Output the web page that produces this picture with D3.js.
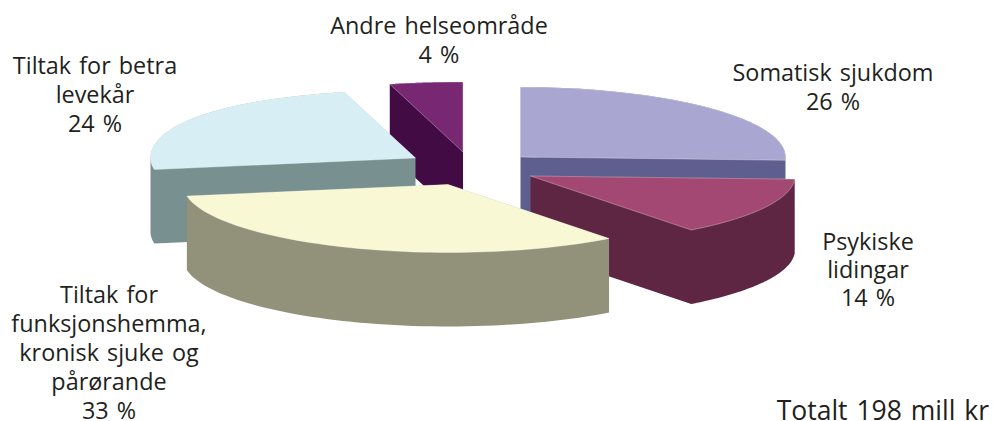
<!DOCTYPE html>
<html>
<head>
<meta charset="utf-8">
<script src="https://cdn.jsdelivr.net/npm/d3@7"></script>
<style>
    html, body { margin: 0; background: #fff; }
    text { font-family: "Open Sans", "Noto Sans", sans-serif; fill: #231f20; word-spacing: 2px; }
</style>
</head>
<body>
<div id="chart"></div>
<script>
//Data
const categories = ["Somatisk sjukdom", "Psykiske lidingar", "Tiltak for funksjonshemma, kronisk sjuke og pårørande", "Tiltak for betra levekår", "Andre helseområde"];
const values = [26, 14, 33, 24, 4];
const labelLines = [
    ["Somatisk sjukdom"],
    ["Psykiske", "lidingar"],
    ["Tiltak for", "funksjonshemma,", "kronisk sjuke og", "pårørande"],
    ["Tiltak for betra", "levekår"],
    ["Andre helseområde"]
];
const totalText = "Totalt 198 mill kr";

//Colours and layout per slice (exploded centre of each slice)
const topColors = ["#a9a7d1", "#a34873", "#f8f8d5", "#d6eef4", "#782873"];
const wallColors = ["#5e5f8e", "#5e2642", "#92927a", "#78908f", "#420b44"];
const sliceLayout = [
    {cx: 520.5, cy: 157, rx: 265, ry: 70, depth: 70, back: 0},
    {cx: 530.5, cy: 176, rx: 264.5, ry: 68, depth: 74, back: 0},
    {cx: 448, cy: 184.5, rx: 265, ry: 68, depth: 74, back: 0},
    {cx: 415.5, cy: 158, rx: 265, ry: 68, depth: 74, back: 0.1},
    {cx: 463, cy: 152, rx: 265, ry: 70, depth: 70, back: 0.13}
];
const labelLayout = [
    {x: 833, y: 81, lh: 29},
    {x: 868, y: 250, lh: 28},
    {x: 109, y: 303, lh: 29},
    {x: 95, y: 74, lh: 29},
    {x: 439, y: 34, lh: 29}
];
const drawOrder = [0, 4, 3, 1, 2];

const width = 993;
const height = 421;

const svg = d3.select("#chart")
    .append("svg")
    .attr("width", width)
    .attr("height", height)
    .attr("viewBox", `0 0 ${width} ${height}`);

const pie = d3.pie().sort(null).value(d => d);
const slices = pie(values);
const line = d3.line();

// Point on the ellipse of a slice, a = clockwise from 12 o'clock
function rimPoint(l, a, dy = 0) {
    const c = Math.cos(a);
    const stretch = c > 0 ? 1 + l.back * c * c : 1;
    return [l.cx + l.rx * Math.sin(a) * stretch, l.cy - l.ry * c + dy];
}

function rimPoints(l, s, dy = 0) {
    const n = 60;
    return d3.range(n + 1).map(i => rimPoint(l, s.startAngle + (s.endAngle - s.startAngle) * i / n, dy));
}

// Same winding for every quad, so one path fills as a union without seams
function wound(quad) {
    return d3.polygonArea(quad) < 0 ? quad.slice().reverse() : quad;
}

// Draw slices back to front
drawOrder.forEach(i => {
    const s = slices[i];
    const l = sliceLayout[i];
    const g = svg.append("g")
        .attr("class", "slice")
        .attr("aria-label", categories[i]);
    const apex = [l.cx, l.cy];
    const apexLow = [l.cx, l.cy + l.depth];
    const rim = rimPoints(l, s);
    const rimLow = rimPoints(l, s, l.depth);

    // side walls plus one small quad per rim step
    const walls = [
        [apex, rim[0], rimLow[0], apexLow],
        [apex, rim[rim.length - 1], rimLow[rimLow.length - 1], apexLow]
    ].concat(d3.pairs(d3.range(rim.length)).map(([a, b]) => [rim[a], rim[b], rimLow[b], rimLow[a]]));

    g.append("path")
        .attr("class", "wall")
        .attr("d", walls.map(q => line(wound(q)) + "Z").join(""))
        .attr("fill", wallColors[i]);

    g.append("path")
        .attr("class", "top")
        .attr("d", line([apex].concat(rim)) + "Z")
        .attr("fill", topColors[i])
        .attr("stroke", "#fff")
        .attr("stroke-opacity", 0.4)
        .attr("stroke-width", 0.8);
});

// Labels
labelLines.forEach((lines, i) => {
    const t = svg.append("text")
        .attr("text-anchor", "middle")
        .style("font-size", "23.4px");
    lines.concat(`${values[i]} %`).forEach((txt, j) => {
        t.append("tspan")
            .attr("x", labelLayout[i].x)
            .attr("y", labelLayout[i].y + j * labelLayout[i].lh)
            .text(txt);
    });
});

svg.append("text")
    .attr("x", 989)
    .attr("y", 420)
    .attr("text-anchor", "end")
    .style("font-size", "26.5px")
    .text(totalText);
</script>
</body>
</html>
